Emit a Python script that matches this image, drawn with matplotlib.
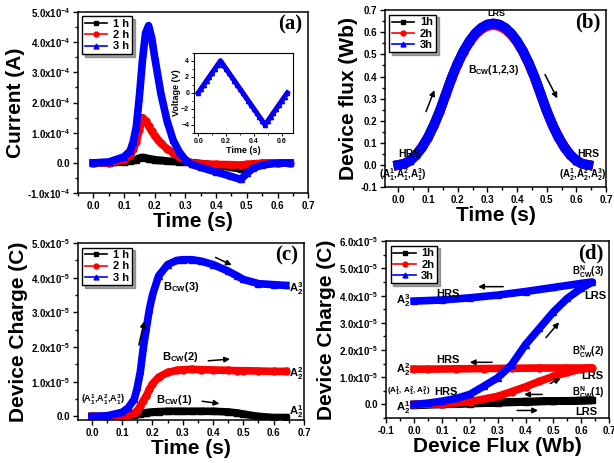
import numpy as np
import matplotlib
matplotlib.use('Agg')
import matplotlib.pyplot as plt
import matplotlib.ticker as ticker

plt.rcParams['font.family'] = ['Liberation Sans', 'DejaVu Sans']
plt.rcParams['font.weight'] = 'bold'
plt.rcParams['mathtext.fontset'] = 'custom'
plt.rcParams['mathtext.rm'] = 'Liberation Sans:bold'
plt.rcParams['mathtext.bf'] = 'Liberation Sans:bold'
plt.rcParams['mathtext.it'] = 'Liberation Sans:bold'

#---------------
# DATA
#---------------

# (a) current vs time, x1e-4 A
t_a = [0, 0.05, 0.1, 0.12, 0.13, 0.14, 0.15, 0.16, 0.17, 0.18, 0.19, 0.2, 0.21, 0.22,
       0.24, 0.26, 0.28, 0.3, 0.32, 0.35, 0.4, 0.45, 0.48, 0.5, 0.52, 0.55, 0.6, 0.64]
cur_1h = [0, 0.0, 0.03, 0.06, 0.08, 0.11, 0.15, 0.18, 0.16, 0.14, 0.12, 0.1, 0.09, 0.08,
          0.06, 0.05, 0.04, 0.03, 0.01, -0.02, -0.08, -0.15, -0.2, -0.12, -0.06, -0.02, 0, 0]
cur_2h = [0, 0.01, 0.1, 0.25, 0.45, 0.7, 1.1, 1.5, 1.4, 1.22, 1.05, 0.9, 0.77, 0.65,
          0.47, 0.33, 0.2, 0.08, 0.0, -0.03, -0.05, -0.06, -0.07, -0.05, -0.03, -0.01, 0, 0]
cur_3h = [0, 0.03, 0.2, 0.4, 0.7, 1.2, 2.2, 3.4, 4.3, 4.55, 4.15, 3.5, 2.9, 2.3,
          1.4, 0.75, 0.36, 0.1, -0.05, -0.15, -0.3, -0.45, -0.55, -0.35, -0.18, -0.07, -0.01, 0]

# inset: voltage vs time
t_v = [0, 0.02, 0.04, 0.06, 0.08, 0.1, 0.12, 0.14, 0.16, 0.18, 0.2, 0.22, 0.24, 0.26, 0.28,
       0.3, 0.32, 0.34, 0.36, 0.38, 0.4, 0.42, 0.44, 0.46, 0.48, 0.5, 0.52, 0.54, 0.56,
       0.58, 0.6, 0.62, 0.64]
volt = [0, 0.5, 1, 1.5, 2, 2.5, 3, 3.5, 4, 3.5, 3, 2.5, 2, 1.5, 1, 0.5, 0, -0.5, -1, -1.5,
        -2, -2.5, -3, -3.5, -4, -3.5, -3, -2.5, -2, -1.5, -1, -0.5, 0]

# (b) flux vs time
t_b = t_v
flux_1h = [0, 0.005, 0.02, 0.045, 0.08, 0.125, 0.18, 0.245, 0.32, 0.395, 0.46, 0.515, 0.56,
           0.595, 0.62, 0.635, 0.64, 0.635, 0.62, 0.595, 0.56, 0.515, 0.46, 0.395, 0.32,
           0.245, 0.18, 0.125, 0.08, 0.045, 0.02, 0.005, 0]
flux_2h = [0, 0.005, 0.02, 0.045, 0.08, 0.124, 0.179, 0.244, 0.318, 0.392, 0.457, 0.511, 0.556,
           0.59, 0.614, 0.628, 0.633, 0.628, 0.614, 0.59, 0.556, 0.511, 0.457, 0.392, 0.318,
           0.244, 0.179, 0.124, 0.08, 0.045, 0.02, 0.005, 0]
flux_3h = flux_1h

# (c) charge vs time, x1e-5 C
t_c = [0, 0.05, 0.1, 0.12, 0.14, 0.15, 0.16, 0.17, 0.18, 0.19, 0.2, 0.22, 0.25, 0.28,
       0.3, 0.33, 0.36, 0.4, 0.45, 0.48, 0.5, 0.55, 0.6, 0.64]
chg_1h = [0, 0, 0.02, 0.03, 0.05, 0.06, 0.08, 0.1, 0.11, 0.12, 0.13, 0.14, 0.15, 0.15,
          0.15, 0.15, 0.15, 0.15, 0.13, 0.1, 0.07, 0.0, -0.03, -0.03]
chg_2h = [0, 0.0, 0.02, 0.05, 0.1, 0.17, 0.3, 0.46, 0.6, 0.78, 0.94, 1.13, 1.27, 1.33,
          1.35, 1.36, 1.35, 1.34, 1.33, 1.32, 1.32, 1.31, 1.3, 1.3]
chg_3h = [0, 0.02, 0.12, 0.25, 0.5, 0.84, 1.3, 2.0, 2.56, 3.1, 3.5, 4.05, 4.38, 4.5,
          4.52, 4.52, 4.48, 4.38, 4.19, 4.05, 3.95, 3.83, 3.8, 3.78]

# (d) charge (x1e-5 C) vs flux (Wb)
fd_1h = [0, 0.1, 0.2, 0.3, 0.4, 0.5, 0.64, 0.5, 0.4, 0.3, 0.2, 0.1, 0.0]
qd_1h = [0, 0.02, 0.05, 0.08, 0.11, 0.13, 0.15, 0.12, 0.09, 0.06, 0.03, 0.0, -0.03]
fd_2h = [0, 0.1, 0.2, 0.3, 0.35, 0.4, 0.45, 0.5, 0.55, 0.6, 0.64, 0.55, 0.45, 0.35, 0.25,
         0.15, 0.05, 0.0]
qd_2h = [0, 0.02, 0.1, 0.3, 0.47, 0.65, 0.85, 1.03, 1.18, 1.3, 1.34, 1.34, 1.34, 1.33, 1.32,
         1.31, 1.3, 1.3]
fd_3h = [0, 0.05, 0.1, 0.15, 0.2, 0.25, 0.3, 0.35, 0.4, 0.45, 0.5, 0.55, 0.6, 0.64, 0.6,
         0.5, 0.4, 0.3, 0.2, 0.1, 0.0]
qd_3h = [0, 0.05, 0.12, 0.22, 0.37, 0.67, 0.98, 1.46, 2.2, 2.8, 3.4, 3.9, 4.27, 4.5, 4.45,
         4.3, 4.15, 4.02, 3.92, 3.84, 3.8]

#---------------
# HELPERS
#---------------

cols = ['black', 'red', 'blue']
marks = ['s', 'o', '^']


def sci_fmt(expo):
    def f(v, pos):
        if abs(v) < 1e-12:
            return '0.0'
        return '%.1fx10$^{%d}$' % (v / 10.0 ** expo, expo)
    return f


def style(ax):
    ax.tick_params(which='both', direction='out', labelsize=7, width=1, pad=2)
    ax.tick_params(which='major', length=3.5)
    ax.tick_params(which='minor', length=2)
    ax.xaxis.set_minor_locator(ticker.AutoMinorLocator(2))
    ax.yaxis.set_minor_locator(ticker.AutoMinorLocator(2))
    for s in ax.spines.values():
        s.set_linewidth(1.1)
    for lab in ax.get_xticklabels() + ax.get_yticklabels():
        lab.set_fontweight('bold')


def series(ax, xs, ys, labels, lw=5.5, ms=5):
    for x, y, c, m, l in zip(xs, ys, cols, marks, labels):
        ax.plot(x, y, color=c, lw=lw, marker=m, ms=ms, mec=c, label=l)


def legend(ax, labels):
    handles = [plt.Line2D([], [], color=c, marker=m, ms=3.5, lw=1.2) for c, m in zip(cols, marks)]
    lg = ax.legend(handles, labels, loc='upper left', frameon=True, fancybox=False,
                   shadow=True, handlelength=2.0, borderpad=0.25, labelspacing=0.1,
                   handletextpad=0.5, borderaxespad=0.4,
                   prop={'weight': 'bold', 'size': 8})
    lg.get_frame().set_edgecolor('black')
    lg.get_frame().set_linewidth(1.0)


def arrow(ax, x0, y0, x1, y1):
    ax.annotate('', xy=(x1, y1), xytext=(x0, y0),
                arrowprops=dict(arrowstyle='-|>', color='black', lw=1.1, mutation_scale=8))


def plabel(ax, txt):
    ax.text(0.975, 0.985, txt, transform=ax.transAxes, ha='right', va='top',
            family='Liberation Serif', fontsize=15, fontweight='bold')


fig = plt.figure(figsize=(6.14, 4.63), dpi=100)

#---------------
# (a)
#---------------
ax = fig.add_axes([0.127, 0.583, 0.375, 0.391])
sc = 1e-4
series(ax, [t_a] * 3, [np.array(cur_1h) * sc, np.array(cur_2h) * sc, np.array(cur_3h) * sc],
       ['1 h', '2 h', '3 h'])
ax.set_xlim(-0.05, 0.7)
ax.set_ylim(-1e-4, 5e-4)
ax.yaxis.set_major_locator(ticker.MultipleLocator(1e-4))
ax.xaxis.set_major_locator(ticker.MultipleLocator(0.1))
ax.yaxis.set_major_formatter(ticker.FuncFormatter(sci_fmt(-4)))
ax.xaxis.set_major_formatter(ticker.FormatStrFormatter('%.1f'))
style(ax)
ax.set_xlabel('Time (s)', fontsize=15, fontweight='bold', labelpad=1)
ax.set_ylabel('Current (A)', fontsize=15, fontweight='bold', labelpad=2)
legend(ax, ['1 h', '2 h', '3 h'])
plabel(ax, '(a)')

ins = fig.add_axes([0.316, 0.713, 0.161, 0.173])
ins.plot(t_v, volt, color='red', lw=3.5)
ins.plot(t_v, volt, color='blue', lw=3.5, marker='^', ms=3)
ins.set_xlim(-0.03, 0.68)
ins.set_ylim(-5, 5)
ins.xaxis.set_major_locator(ticker.MultipleLocator(0.2))
ins.yaxis.set_major_locator(ticker.MultipleLocator(2))
ins.xaxis.set_major_formatter(ticker.FormatStrFormatter('%.1f'))
ins.tick_params(direction='out', labelsize=5, length=2, width=0.7, pad=1.5)
ins.xaxis.set_minor_locator(ticker.AutoMinorLocator(2))
ins.yaxis.set_minor_locator(ticker.AutoMinorLocator(2))
ins.tick_params(which='minor', length=1.2, width=0.6)
for s in ins.spines.values():
    s.set_linewidth(0.8)
ins.set_xlabel('Time (s)', fontsize=6.5, fontweight='bold', labelpad=1)
ins.set_ylabel('Voltage (V)', fontsize=6.5, fontweight='bold', labelpad=0)

#---------------
# (b)
#---------------
ax = fig.add_axes([0.627, 0.596, 0.360, 0.382])
series(ax, [t_b] * 3, [flux_1h, flux_2h, flux_3h], ['1h', '2h', '3h'], lw=7, ms=5)
ax.set_xlim(-0.045, 0.7)
ax.set_ylim(-0.1, 0.7)
ax.xaxis.set_major_locator(ticker.MultipleLocator(0.1))
ax.yaxis.set_major_locator(ticker.MultipleLocator(0.1))
ax.xaxis.set_major_formatter(ticker.FormatStrFormatter('%.1f'))
ax.yaxis.set_major_formatter(ticker.FormatStrFormatter('%.1f'))
style(ax)
ax.set_xlabel('Time (s)', fontsize=15, fontweight='bold', labelpad=1)
ax.set_ylabel('Device flux (Wb)', fontsize=15, fontweight='bold', labelpad=2)
legend(ax, ['1h', '2h', '3h'])
plabel(ax, '(b)')
ax.text(0.33, 0.665, 'LRS', fontsize=6.5, ha='center', va='bottom')
ax.text(0.32, 0.43, r'B$_{CW}$(1,2,3)', fontsize=7.5, ha='center', va='center')
ax.text(0.0, 0.05, 'HRS', fontsize=7.5, ha='left', va='center')
ax.text(0.015, -0.045, r'(A$_1^1$,A$_1^2$,A$_1^3$)', fontsize=7, ha='center', va='center')
ax.text(0.64, 0.05, 'HRS', fontsize=7.5, ha='center', va='center')
ax.text(0.62, -0.045, r'(A$_2^1$,A$_2^2$,A$_2^3$)', fontsize=7, ha='center', va='center')
arrow(ax, 0.09, 0.23, 0.125, 0.35)
arrow(ax, 0.49, 0.42, 0.54, 0.29)

#---------------
# (c)
#---------------
ax = fig.add_axes([0.127, 0.093, 0.368, 0.382])
sc = 1e-5
series(ax, [t_c] * 3, [np.array(chg_1h) * sc, np.array(chg_2h) * sc, np.array(chg_3h) * sc],
       ['1 h', '2 h', '3 h'])
ax.set_xlim(-0.046, 0.7)
ax.set_ylim(-0.1e-5, 5e-5)
ax.xaxis.set_major_locator(ticker.MultipleLocator(0.1))
ax.yaxis.set_major_locator(ticker.MultipleLocator(1e-5))
ax.xaxis.set_major_formatter(ticker.FormatStrFormatter('%.1f'))
ax.yaxis.set_major_formatter(ticker.FuncFormatter(sci_fmt(-5)))
style(ax)
ax.set_xlabel('Time (s)', fontsize=15, fontweight='bold', labelpad=1)
ax.set_ylabel('Device Charge (C)', fontsize=15, fontweight='bold', labelpad=2)
legend(ax, ['1 h', '2 h', '3 h'])
plabel(ax, '(c)')
ax.text(0.035, 0.47e-5, r'(A$_1^1$,A$_1^2$,A$_1^3$)', fontsize=6.5, ha='center', va='center')
ax.text(0.21, 0.47e-5, r'B$_{CW}$(1)', fontsize=8, ha='left', va='center')
ax.text(0.23, 1.72e-5, r'B$_{CW}$(2)', fontsize=8, ha='left', va='center')
ax.text(0.235, 3.72e-5, r'B$_{CW}$(3)', fontsize=8, ha='left', va='center')
ax.text(0.65, 3.7e-5, r'A$_2^3$', fontsize=8, ha='left', va='center')
ax.text(0.65, 1.25e-5, r'A$_2^2$', fontsize=8, ha='left', va='center')
ax.text(0.65, 0.15e-5, r'A$_2^1$', fontsize=8, ha='left', va='center')
arrow(ax, 0.355, 0.45e-5, 0.43, 0.36e-5)
arrow(ax, 0.375, 1.6e-5, 0.465, 1.66e-5)
arrow(ax, 0.153, 1.98e-5, 0.175, 2.82e-5)
arrow(ax, 0.4, 4.62e-5, 0.47, 4.33e-5)

#---------------
# (d)
#---------------
ax = fig.add_axes([0.629, 0.097, 0.363, 0.382])
series(ax, [fd_1h, fd_2h, fd_3h],
       [np.array(qd_1h) * sc, np.array(qd_2h) * sc, np.array(qd_3h) * sc],
       ['1h', '2h', '3h'], lw=5.5, ms=5)
ax.set_xlim(-0.1, 0.7)
ax.set_ylim(-0.5e-5, 6e-5)
ax.xaxis.set_major_locator(ticker.MultipleLocator(0.1))
ax.yaxis.set_major_locator(ticker.MultipleLocator(1e-5))
ax.xaxis.set_major_formatter(ticker.FormatStrFormatter('%.1f'))
ax.yaxis.set_major_formatter(ticker.FuncFormatter(sci_fmt(-5)))
style(ax)
ax.set_xlabel('Device Flux (Wb)', fontsize=15, fontweight='bold', labelpad=1)
ax.set_ylabel('Device Charge (C)', fontsize=15, fontweight='bold', labelpad=2)
legend(ax, ['1h', '2h', '3h'])
plabel(ax, '(d)')
ax.text(-0.015, 3.8e-5, r'A$_2^3$', fontsize=8, ha='right', va='center')
ax.text(0.12, 4.05e-5, 'HRS', fontsize=8, ha='center', va='center')
ax.text(0.625, 4.9e-5, r'B$_{CW}^N$(3)', fontsize=7, ha='center', va='center')
ax.text(0.65, 4.0e-5, 'LRS', fontsize=8, ha='center', va='center')
ax.text(-0.015, 1.3e-5, r'A$_2^2$', fontsize=8, ha='right', va='center')
ax.text(0.12, 1.65e-5, 'HRS', fontsize=8, ha='center', va='center')
ax.text(0.625, 1.95e-5, r'B$_{CW}^N$(2)', fontsize=7, ha='center', va='center')
ax.text(0.64, 1.05e-5, 'LRS', fontsize=8, ha='center', va='center')
ax.text(-0.097, 0.48e-5, r'(A$_1^1$, A$_1^2$, A$_1^3$)', fontsize=5.8, ha='left', va='center')
ax.text(0.115, 0.45e-5, 'HRS', fontsize=8, ha='center', va='center')
ax.text(0.625, 0.45e-5, r'B$_{CW}^N$(1)', fontsize=7, ha='center', va='center')
ax.text(-0.015, -0.1e-5, r'A$_2^1$', fontsize=8, ha='right', va='center')
ax.text(0.62, -0.27e-5, 'LRS', fontsize=8, ha='center', va='center')
arrow(ax, 0.33, 4.33e-5, 0.22, 4.33e-5)
arrow(ax, 0.29, 1.55e-5, 0.19, 1.55e-5)
arrow(ax, 0.47, 0.37e-5, 0.385, 0.37e-5)
arrow(ax, 0.36, -0.22e-5, 0.455, -0.22e-5)
arrow(ax, 0.467, 2.38e-5, 0.527, 3.1e-5)
arrow(ax, 0.48, 0.73e-5, 0.535, 1.0e-5)

fig.savefig('out.png', dpi=100)
plt.close()
